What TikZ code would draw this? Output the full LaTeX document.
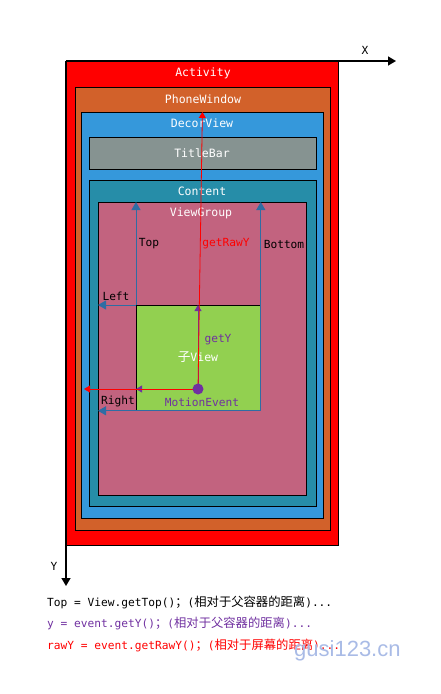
\documentclass[tikz,border=0pt]{standalone}
\usepackage{fontspec}
\setmonofont{DejaVu Sans Mono}
\newfontfamily\cjk[Scale=1.1]{Noto Sans CJK SC}
\newfontfamily\markfont{Liberation Sans}
\usetikzlibrary{arrows.meta,positioning,calc}
\definecolor{ActRed}{HTML}{FF0000}
\definecolor{WinOrange}{HTML}{D2612A}
\definecolor{DecorBlue}{HTML}{3598DB}
\definecolor{BarGray}{HTML}{869391}
\definecolor{ContentTeal}{HTML}{268DA8}
\definecolor{GroupPink}{HTML}{C2637F}
\definecolor{ChildGreen}{HTML}{92D050}
\definecolor{EdgeBlue}{HTML}{2E6DA4}
\definecolor{EvPurple}{HTML}{7030A0}
\definecolor{MarkBlue}{HTML}{A9BBE6}
\newcommand{\Panel}[6]{%
  \node[panel,fill=#6,minimum width=#4pt,minimum height=#5pt] (#1) at (#2,#3) {};%
}

\begin{document}
\begin{tikzpicture}[x=1pt,y=-1pt,
  panel/.style={draw=black,line width=0.8pt,anchor=north west,inner sep=0pt},
  title/.style={text=white,font=\ttfamily\fontsize{11.5}{12}\selectfont,inner sep=0pt},
  tag/.style={font=\ttfamily\fontsize{11.2}{12}\selectfont,inner sep=0pt},
  axis/.style={line width=1.6pt,-{Triangle[length=8pt,width=9pt]}},
  edge/.style={EdgeBlue,line width=0.8pt,-{Triangle[length=8pt,width=9pt]}},
  getline/.style={EvPurple,line width=0.8pt,-{Triangle[length=6pt,width=7pt]}},
  rawline/.style={ActRed,line width=0.8pt,-{Triangle[length=6pt,width=7pt]}}]
\useasboundingbox (0,0) rectangle (440,694);
% nested windows
\Panel{act}{66}{61}{272}{484}{ActRed}
\Panel{pw}{75}{87}{255}{443}{WinOrange}
\Panel{dv}{81}{112}{242}{406}{DecorBlue}
\Panel{tb}{89}{137}{227}{32}{BarGray}
\Panel{ct}{89}{180}{227}{326}{ContentTeal}
\Panel{vg}{98}{202}{208}{293}{GroupPink}
\Panel{cv}{136}{305}{124}{105}{ChildGreen}
\node[title] (actname) at (203,73) {Activity};
\node[title] (pwname) at (203,99) {PhoneWindow};
\node[title] (dvname) at (202,123) {DecorView};
\node[title] (tbname) at (202,153) {TitleBar};
\node[title] (ctname) at (202,191) {Content};
\node[title] (vgname) at (201,213) {ViewGroup};
\node[title] (cvname) at (198,357) {{\cjk 子}View};
% axes
\coordinate (origin) at (66,61);
\coordinate (xend) at (396,61);
\coordinate (yend) at (66,586);
\draw[axis] (origin) -- (xend);
\draw[axis] (origin) -- (yend);
\node[tag] (xname) at (365,50) {X};
\node[tag] (yname) at (54,566) {Y};
% Top / Bottom / Left / Right
\draw[edge] (cv.north west) -- (cv.north west |- vg.north);
\draw[edge] (cv.south east) -- (cv.south east |- vg.north);
\draw[edge] (cv.north west) -- (cv.north west -| vg.west);
\draw[edge] (cv.south east) -- (cv.south east -| vg.west);
\node[tag] (topname) at (149,244) {Top};
\node[tag] (botname) at (284,244) {Bottom};
\node[tag] (leftname) at (116,296) {Left};
\node[tag] (rightname) at (118,401) {Right};
% touch point
\coordinate (evpt) at (198,389);
\coordinate (rawleft) at (84,389);
\draw[getline] (evpt) -- (evpt |- cv.north);
\draw[getline] (evpt) -- (evpt -| cv.west);
\draw[rawline] (evpt) -- (dv.north);
\draw[rawline] (evpt) -- (rawleft);
\node[circle,fill=EvPurple,inner sep=0pt,minimum size=11pt] (ev) at (evpt) {};
\node[tag,text=ActRed] (rawname) at (226,244) {getRawY};
\node[tag,text=EvPurple] (getname) at (218,340) {getY};
\node[tag,text=EvPurple] (evname) at (202,402) {MotionEvent};
% notes
\node[tag,anchor=west] (note1) at (47,602) {Top = View.getTop(){\cjk ；}({\cjk 相对于父容器的距离})...};
\node[tag,anchor=west,text=EvPurple] (note2) at (47,623) {y = event.getY(){\cjk ；}({\cjk 相对于父容器的距离})...};
\node[tag,anchor=west,text=ActRed] (note3) at (47,645) {rawY = event.getRawY(){\cjk ；}({\cjk 相对于屏幕的距离})...};
\node[anchor=west,inner sep=0pt,text=MarkBlue,font=\markfont\fontsize{22}{24}\selectfont] (mark) at (294,651) {gusi123.cn};
\end{tikzpicture}
\end{document}
